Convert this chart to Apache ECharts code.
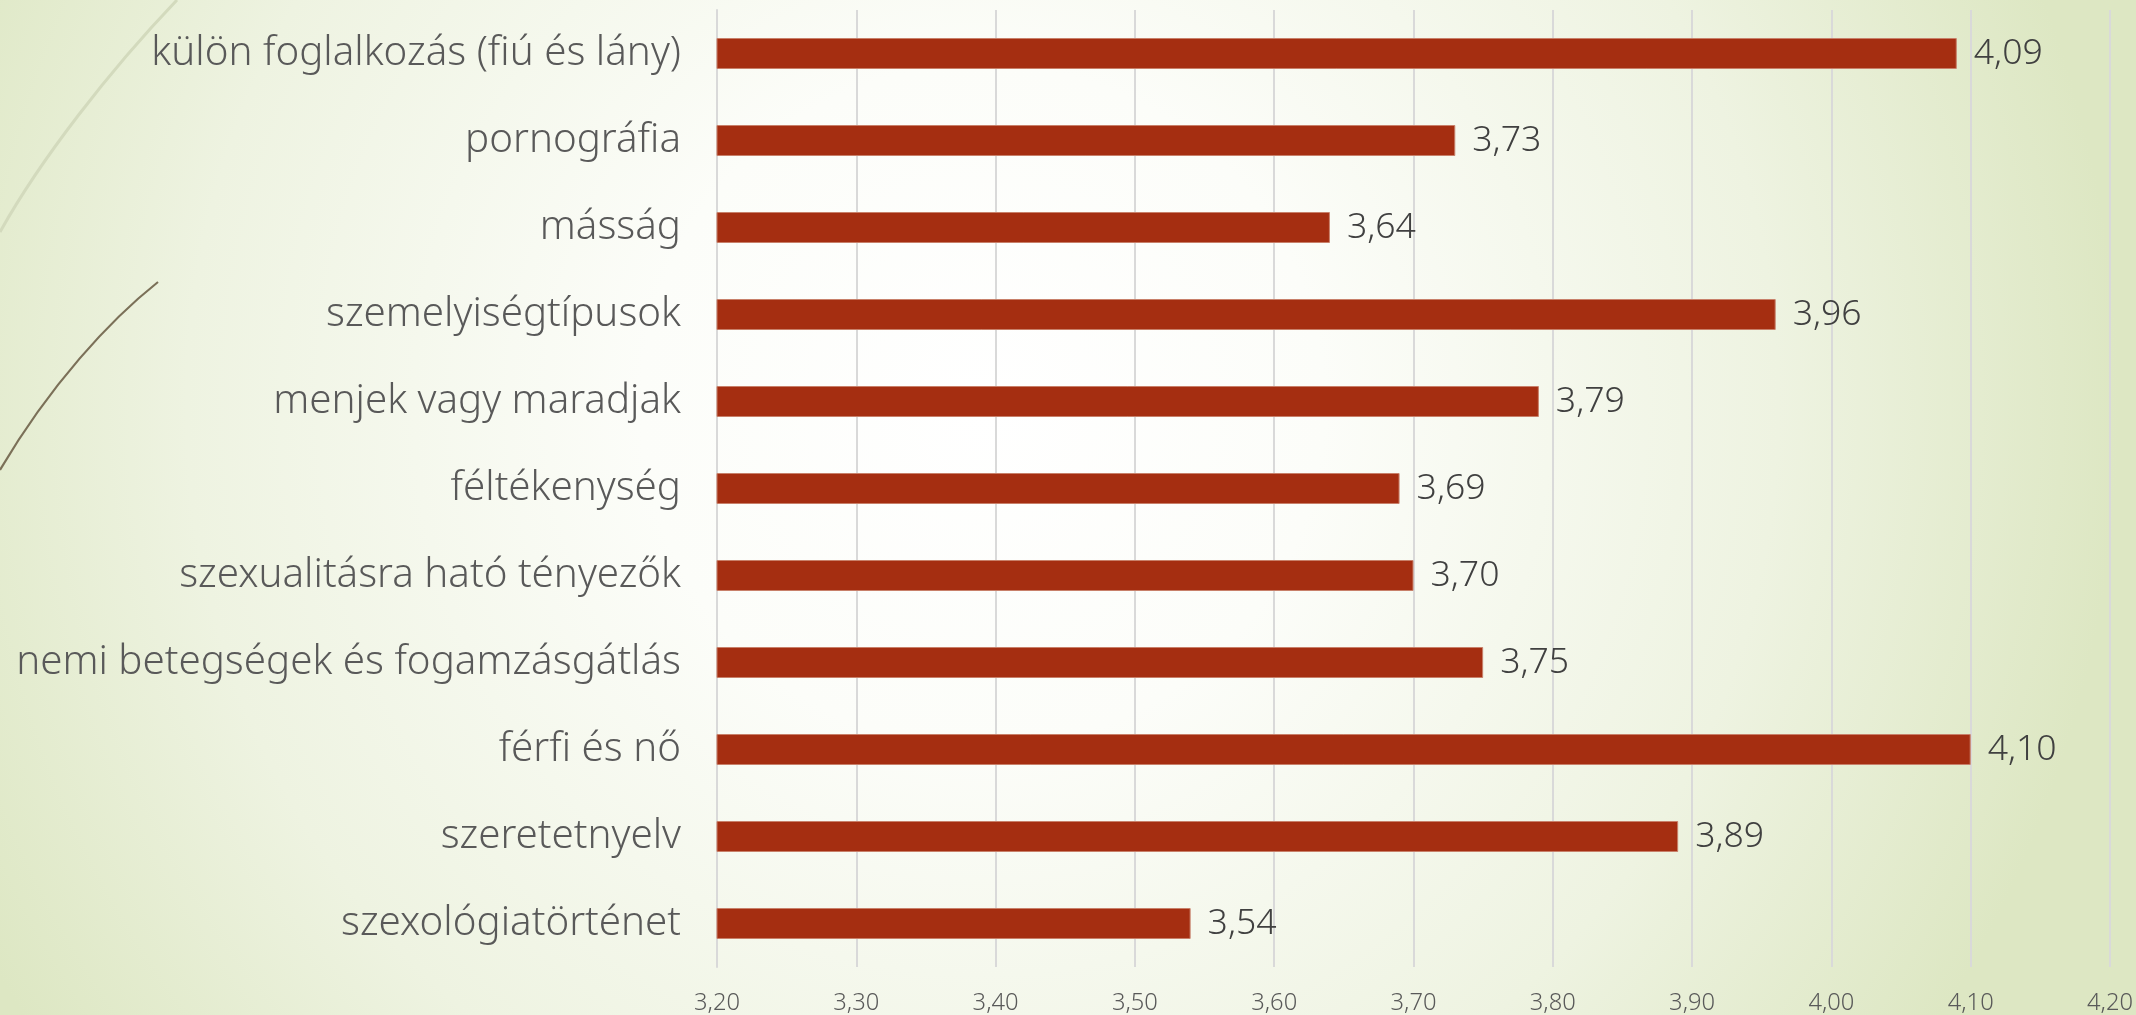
<!DOCTYPE html>
<html>
<head>
<meta charset="utf-8">
<script src="https://cdn.jsdelivr.net/npm/echarts@6/dist/echarts.min.js"></script>
<style>
html,body{margin:0;padding:0;width:2136px;height:1015px;overflow:hidden;}
#c{width:2136px;height:1015px;}
</style>
</head>
<body>
<div id="c"></div>
<script>
const categories = [
  'külön foglalkozás (fiú és lány)',
  'pornográfia',
  'másság',
  'szemelyiségtípusok',
  'menjek vagy maradjak',
  'féltékenység',
  'szexualitásra ható tényezők',
  'nemi betegségek és fogamzásgátlás',
  'férfi és nő',
  'szeretetnyelv',
  'szexológiatörténet'
];
const values = [4.09, 3.73, 3.64, 3.96, 3.79, 3.69, 3.70, 3.75, 4.10, 3.89, 3.54];
const axisMin = 3.2, axisMax = 4.2, axisStep = 0.1;

const FONT = '"Noto Sans", sans-serif';
const WEIGHT = 300;
function fit(text, target, family) {
  const ctx = document.createElement('canvas').getContext('2d');
  ctx.font = WEIGHT + ' 100px ' + family;
  return 100 * target / ctx.measureText(text).width;
}
const catSize = fit('nemi betegségek és fogamzásgátlás', 665, FONT);
const valSize = fit('4,09', 69, FONT);
const tickSize = fit('3,20', 46, FONT);
const fmt = v => v.toFixed(2).replace('.', ',');

const chart = echarts.init(document.getElementById('c'), null, {renderer: 'canvas'});
chart.setOption({
  backgroundColor: {
    type: 'radial', x: 0.46, y: 0.4, r: 1.12,
    colorStops: [
      {offset: 0, color: '#ffffff'},
      {offset: 0.3, color: '#fcfdf9'},
      {offset: 0.7, color: '#eef3e1'},
      {offset: 1, color: '#dde7c3'}
    ]
  },
  animation: false,
  graphic: [
    {type: 'bezierCurve', silent: true, z: -1,
     shape: {x1: 177, y1: 0, x2: 0, y2: 232, cpx1: 110, cpy1: 70, cpx2: 40, cpy2: 160},
     style: {stroke: '#d3dabd', lineWidth: 3, fill: null}},
    {type: 'bezierCurve', silent: true, z: -1,
     shape: {x1: 158, y1: 282, x2: 0, y2: 470, cpx1: 110, cpy1: 320, cpx2: 50, cpy2: 385},
     style: {stroke: '#7b7058', lineWidth: 2.2, fill: null}}
  ],
  grid: {left: 717, right: 26, top: 10, bottom: 45, containLabel: false},
  xAxis: {
    type: 'value', min: axisMin, max: axisMax, interval: axisStep,
    axisLine: {show: false}, axisTick: {show: false},
    splitLine: {show: true, lineStyle: {color: '#d9d9d9', width: 2}},
    axisLabel: {color: '#595959', fontFamily: FONT, fontWeight: WEIGHT, fontSize: tickSize, margin: 24,
      formatter: v => fmt(v)}
  },
  yAxis: {
    type: 'category', data: categories, inverse: true,
    axisLine: {show: true, lineStyle: {color: '#d9d9d9', width: 2}},
    axisTick: {show: false},
    axisLabel: {color: '#595959', fontFamily: FONT, fontWeight: WEIGHT, fontSize: catSize, margin: 36}
  },
  series: [{
    type: 'bar', data: values, barWidth: 31,
    itemStyle: {color: '#a52e11', borderColor: '#c8806a', borderWidth: 1},
    label: {show: true, position: 'right', distance: 17, color: '#404040',
      fontFamily: FONT, fontWeight: WEIGHT, fontSize: valSize, formatter: p => fmt(p.value)}
  }]
});
</script>
</body>
</html>
